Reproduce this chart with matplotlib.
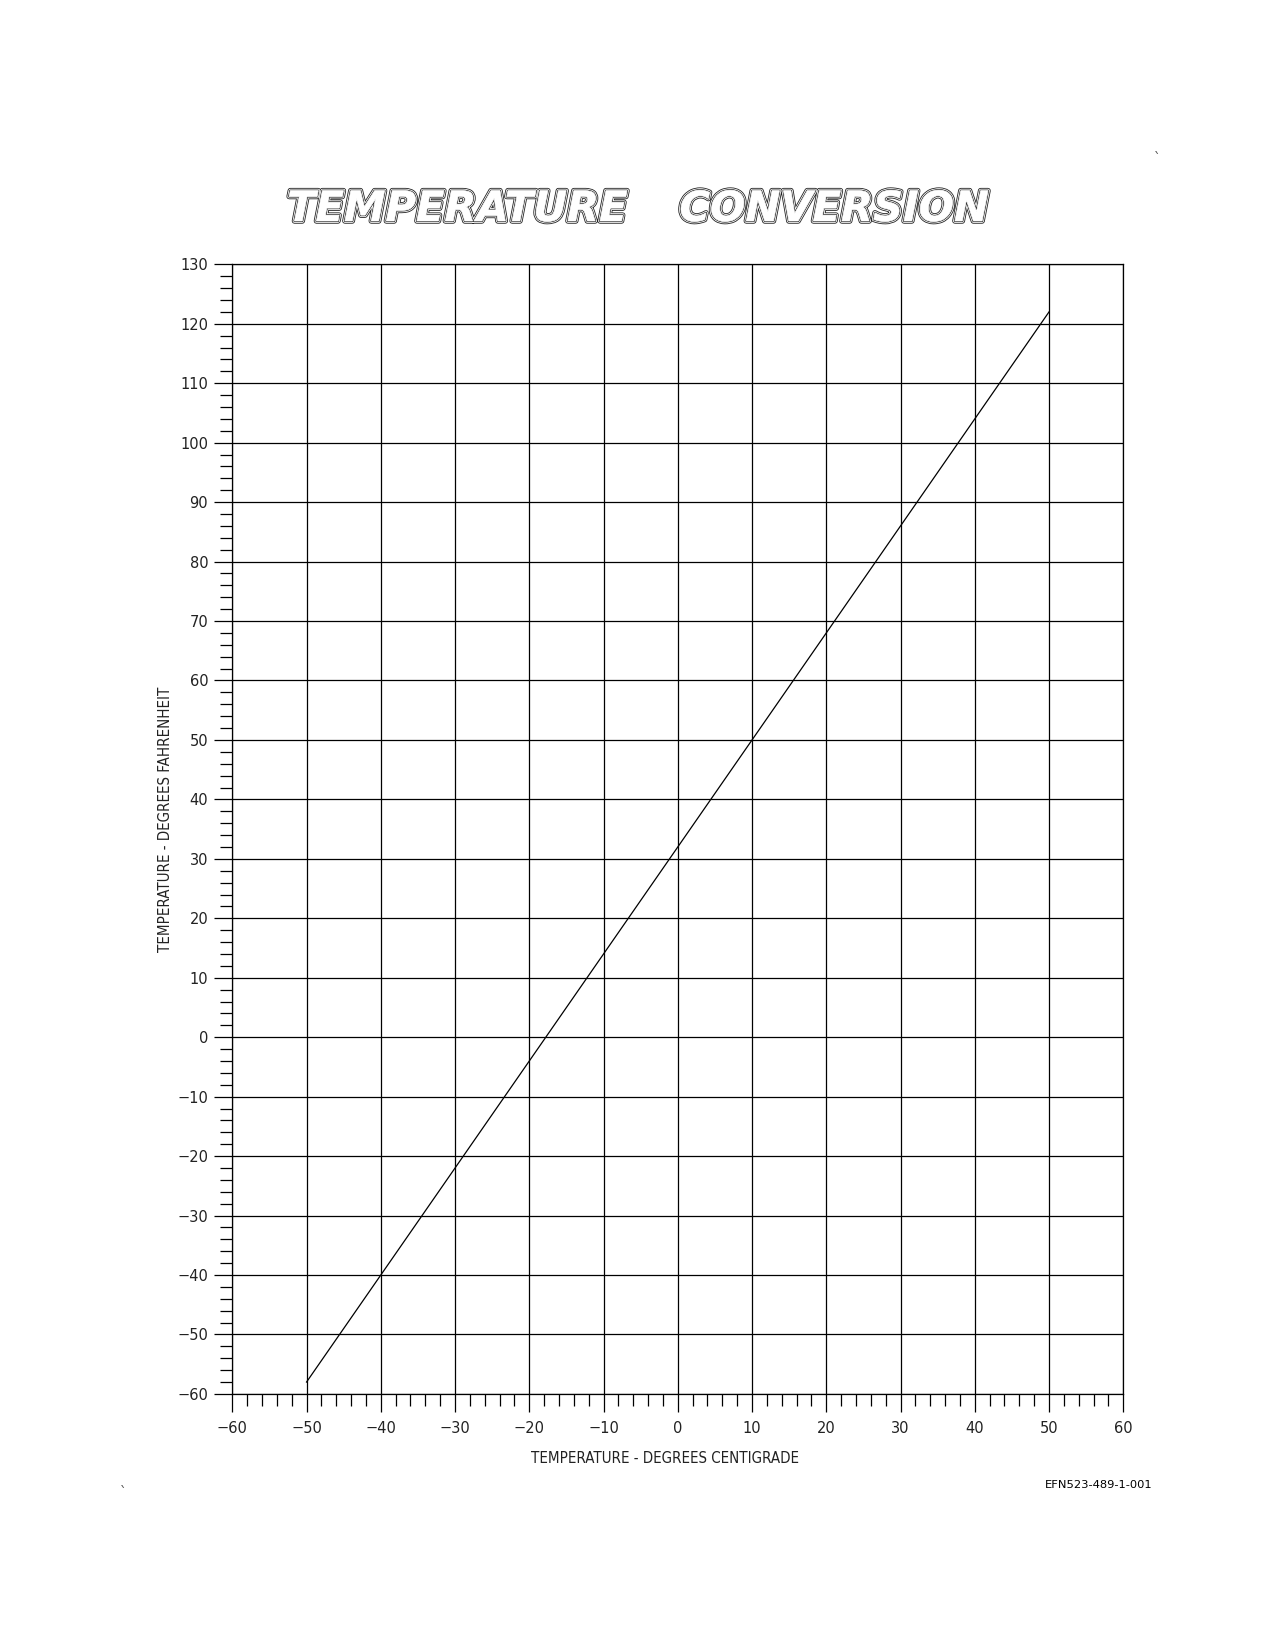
import matplotlib
matplotlib.use('Agg')
import matplotlib.pyplot as plt
import matplotlib.patheffects as pe
from matplotlib import font_manager
import numpy as np

# chart values
celsius = [-50, 50]
fahrenheit = [-58, 122]
x_ticks = [-60, -50, -40, -30, -20, -10, 0, 10, 20, 30, 40, 50, 60]
y_ticks = [-60, -50, -40, -30, -20, -10, 0, 10, 20, 30, 40, 50, 60, 70, 80, 90, 100, 110, 120, 130]
title_words = ['TEMPERATURE', 'CONVERSION']
x_label = 'TEMPERATURE - DEGREES CENTIGRADE'
y_label = 'TEMPERATURE - DEGREES FAHRENHEIT'
drawing_no = 'EFN523-489-1-001'

# narrow lettering if a condensed face is around
fonts = font_manager.fontManager.ttflist
if any(f.name == 'Liberation Sans Narrow' for f in fonts):
    plt.rcParams['font.family'] = ['Liberation Sans Narrow', 'DejaVu Sans']
elif any(f.name == 'DejaVu Sans' and f.stretch == 'condensed' for f in fonts):
    plt.rcParams['font.family'] = ['DejaVu Sans']
    plt.rcParams['font.stretch'] = 'condensed'
else:
    plt.rcParams['font.family'] = ['Roboto', 'DejaVu Sans']

fig = plt.figure(figsize=(8.5, 11), dpi=150)
ax = fig.add_axes([0.1822, 0.1552, 0.6988, 0.6846])

ax.plot(celsius, fahrenheit, color='black', lw=0.6)

ax.set_xlim(-60, 60)
ax.set_ylim(-60, 130)
ax.set_xticks(x_ticks)
ax.set_yticks(y_ticks)
ax.set_xticks(np.arange(-60, 61, 2), minor=True)
ax.set_yticks(np.arange(-60, 131, 2), minor=True)
ax.grid(True, which='major', color='black', lw=0.6)
ax.tick_params(which='major', direction='out', length=8.6, width=0.6,
               labelsize=7.8, pad=3, color='black', labelcolor='#222222')
ax.tick_params(which='minor', direction='out', length=5.8, width=0.6, color='black')
ax.tick_params(axis='x', which='major', pad=4.5)
for s in ax.spines.values():
    s.set_linewidth(0.6)

ax.set_xlabel(x_label, fontsize=7.2, va='center', color='#222222')
ax.set_ylabel(y_label, fontsize=7.2, va='center', color='#222222')
ax.xaxis.set_label_coords(0.4856, -0.0575)
ax.yaxis.set_label_coords(-0.0755, 0.509)

effects = [pe.Normal(),
           pe.Stroke(linewidth=2.6, foreground='#222222'),
           pe.Stroke(linewidth=1.8, foreground='white'),
           pe.Stroke(linewidth=1.0, foreground='#222222'),
           pe.Stroke(linewidth=0.35, foreground='white')]
for word, xc in zip(title_words, [457, 834]):
    fig.text(xc / 1275, 1 - 209 / 1650, word, ha='center', va='center',
             fontsize=20, family='DejaVu Sans', stretch='normal', weight='bold',
             style='italic', color='white', path_effects=effects)

fig.text(1099 / 1275, 1 - 1485 / 1650, drawing_no, ha='center', va='center',
         fontsize=5.5, family='DejaVu Sans', stretch='normal')

# stray marks from the scan
fig.text(1157 / 1275, 1 - 160 / 1650, '`', ha='center', va='center', fontsize=7, color='#555555')
fig.text(123 / 1275, 1 - 1493 / 1650, '`', ha='center', va='center', fontsize=7, color='#555555')

plt.savefig('out.png', dpi=150)
